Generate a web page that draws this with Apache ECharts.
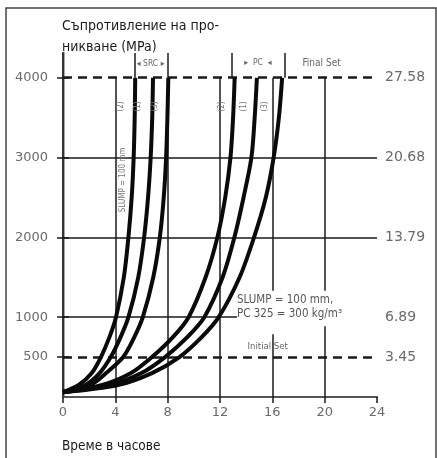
<!DOCTYPE html>
<html>
<head>
<meta charset="utf-8">
<script src="https://cdn.jsdelivr.net/npm/echarts@6/dist/echarts.min.js"></script>
<style>
html,body{margin:0;padding:0;background:#fff;}
#c{width:437px;height:458px;}
</style>
</head>
<body>
<div id="c"></div>
<script>
// ---- data ----
const psiTicks = [500, 1000, 2000, 3000, 4000];
const mpaLabels = ['3.45', '6.89', '13.79', '20.68', '27.58'];
const xTickHours = [0, 4, 8, 12, 16, 20, 24];

// penetration resistance levels (psi) and the time (hours) each curve reaches them
const psiLevels = [60, 150, 300, 500, 750, 1000, 1500, 2000, 2500, 3000, 3500, 4000];
const srcHours1 = [0, 1.2, 2.2, 2.9, 3.55, 4.05, 4.65, 5.0, 5.25, 5.4, 5.48, 5.52];
const srcHours2 = [0, 1.7, 2.8, 3.65, 4.4, 5.0, 5.75, 6.2, 6.5, 6.7, 6.82, 6.88];
const srcHours3 = [0, 2.1, 3.3, 4.6, 5.45, 6.1, 6.9, 7.4, 7.7, 7.88, 7.98, 8.05];
const pcHours1 = [0, 3.0, 5.2, 6.8, 8.4, 9.6, 10.9, 11.8, 12.4, 12.8, 13.0, 13.12];
const pcHours2 = [0, 3.6, 6.0, 7.8, 9.5, 10.8, 12.2, 13.1, 13.8, 14.4, 14.65, 14.82];
const pcHours3 = [0, 4.2, 6.8, 8.9, 10.6, 11.9, 13.5, 14.6, 15.5, 16.1, 16.5, 16.75];
const curveHours = [srcHours1, srcHours2, srcHours3, pcHours1, pcHours2, pcHours3];

// reference lines: [value, from, to]
const solidRows = [[1000, 0, 13.3], [2000, 0, 24], [3000, 0, 24]];
const dashedRows = [[500, 0, 24], [4000, 0, 24]];
const columns = [[4, 0, 4000], [8, 0, 4310], [12, 0, 4000], [16, 0, 785], [16, 1330, 4000], [20, 0, 886], [20, 1330, 4000]];
const brackets = [[5.5, 4000, 4310], [12.9, 4000, 4310], [16.95, 4000, 4310]];
const Y_MAX = 4310;

const chart = echarts.init(document.getElementById('c'), null, {renderer: 'canvas'});

const markData = [];
solidRows.forEach(r => markData.push([{coord: [r[1], r[0]], lineStyle: {color: '#1a1a1a', width: 1.6, type: 'solid'}}, {coord: [r[2], r[0]]}]));
dashedRows.forEach(r => markData.push([{coord: [r[1], r[0]], lineStyle: {color: '#1a1a1a', width: 2.6, type: [9, 6]}}, {coord: [r[2], r[0]]}]));
columns.forEach(c => markData.push([{coord: [c[0], c[1]], lineStyle: {color: '#1a1a1a', width: 1.5, type: 'solid'}}, {coord: [c[0], c[2]]}]));
brackets.forEach(c => markData.push([{coord: [c[0], c[1]], lineStyle: {color: '#1a1a1a', width: 1.5, type: 'solid'}}, {coord: [c[0], c[2]]}]));

const tickFont = 'DejaVu Sans';
const narrow = "'Liberation Sans Narrow', 'DejaVu Sans Condensed', sans-serif";

const series = [{
  type: 'line', data: [], silent: true, z: 2,
  markLine: {silent: true, symbol: ['none', 'none'], label: {show: false}, animation: false, data: markData}
}];
curveHours.forEach(h => series.push({
  type: 'line', data: h.map((x, i) => [x, psiLevels[i]]), showSymbol: false, smooth: 0.3, silent: true, z: 5,
  lineStyle: {color: '#0a0a0a', width: 4}
}));

chart.setOption({
  animation: false,
  grid: {left: 63, right: 60, top: 53, bottom: 61},
  xAxis: [{
    type: 'value', min: 0, max: 24, interval: 4,
    axisLine: {lineStyle: {color: '#1a1a1a', width: 1.6}},
    axisTick: {length: 6, lineStyle: {color: '#1a1a1a', width: 1.5}},
    axisLabel: {color: '#6a6a6a', fontSize: 13, fontFamily: tickFont, margin: 9,
      formatter: v => xTickHours.indexOf(v) >= 0 ? String(v) : ''},
    splitLine: {show: false}
  }, {
    type: 'value', min: 0, max: 24, position: 'top',
    axisLine: {show: true, lineStyle: {color: '#555', width: 2}},
    axisTick: {show: false}, axisLabel: {show: false}, splitLine: {show: false}
  }],
  yAxis: [{
    type: 'value', min: 0, max: Y_MAX, position: 'left',
    axisLine: {show: true, lineStyle: {color: '#8a8a8a', width: 2.5}},
    axisTick: {show: true, customValues: psiTicks, length: 6, lineStyle: {color: '#1a1a1a', width: 1.5}},
    axisLabel: {customValues: psiTicks, color: '#6a6a6a', fontSize: 13, fontFamily: tickFont, margin: 15,
      formatter: v => String(v)},
    splitLine: {show: false}
  }, {
    type: 'value', min: 0, max: Y_MAX, position: 'right',
    axisLine: {show: true, lineStyle: {color: '#333', width: 2}},
    axisTick: {show: true, customValues: psiTicks, length: 6, lineStyle: {color: '#1a1a1a', width: 1.5}},
    axisLabel: {customValues: psiTicks, color: '#6a6a6a', fontSize: 14, fontFamily: tickFont, margin: 8,
      formatter: v => mpaLabels[psiTicks.indexOf(v)]},
    splitLine: {show: false}
  }],
  series: series
});

// ---- annotations placed through the axes ----
const px = (x, y) => chart.convertToPixel({xAxisIndex: 0, yAxisIndex: 0}, [x, y]);
const notes = [
  {text: 'SLUMP = 100 mm,', at: [13.3, 1216], size: 11.5, color: '#555', align: 'left'},
  {text: 'PC 325 = 300 kg/m³', at: [13.3, 1041], size: 11.5, color: '#555', align: 'left'},
  {text: 'Initial Set', at: [14.1, 627], size: 9.5, color: '#666', align: 'left'},
  {text: 'Final Set', at: [18.3, 4185], size: 10, color: '#666', align: 'left'},
  {text: '▸  PC  ◂', at: [14.9, 4185], size: 8.5, color: '#666', align: 'center'},
  {text: '◂ SRC ▸', at: [6.7, 4180], size: 8.5, color: '#666', align: 'center'}
];
const rotNotes = [
  {text: 'SLUMP = 100 mm', at: [4.55, 2720], size: 8},
  {text: '(2)', at: [4.45, 3640], size: 8},
  {text: '(1)', at: [5.75, 3640], size: 8},
  {text: '(3)', at: [7.05, 3640], size: 8},
  {text: '(2)', at: [12.15, 3640], size: 8},
  {text: '(1)', at: [13.8, 3640], size: 8},
  {text: '(3)', at: [15.45, 3640], size: 8}
];
const graphics = [
  {type: 'rect', shape: {x: 6, y: 8, width: 430, height: 460}, style: {fill: 'none', stroke: '#444', lineWidth: 1.5}, silent: true},
  {type: 'text', left: 62, top: 16, style: {text: 'Съпротивление на про-\nникване (MPa)', font: '14px ' + narrow, fill: '#1a1a1a', lineHeight: 21}, silent: true},
  {type: 'text', left: 62, top: 439, style: {text: 'Време в часове', font: '13.5px ' + narrow, fill: '#1a1a1a'}, silent: true}
];
notes.forEach(n => {
  const p = px(n.at[0], n.at[1]);
  graphics.push({type: 'text', x: p[0], y: p[1], z: 10, silent: true,
    style: {text: n.text, font: n.size + 'px ' + narrow, fill: n.color, align: n.align, verticalAlign: 'middle',
      backgroundColor: n.align === 'left' && n.size > 11 ? '#fff' : null}});
});
rotNotes.forEach(n => {
  const p = px(n.at[0], n.at[1]);
  graphics.push({type: 'text', x: p[0], y: p[1], rotation: Math.PI / 2, z: 10, silent: true,
    style: {text: n.text, font: n.size + 'px ' + narrow, fill: '#777', align: 'center', verticalAlign: 'middle'}});
});
chart.setOption({graphic: graphics});
</script>
</body>
</html>
